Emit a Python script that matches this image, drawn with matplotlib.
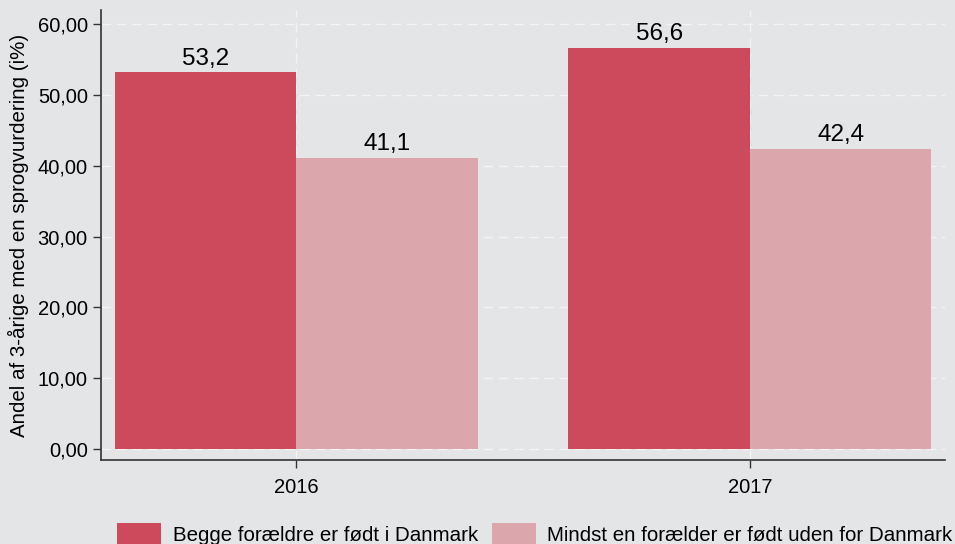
import matplotlib.pyplot as plt
import numpy as np
from matplotlib.ticker import FuncFormatter

plt.rcParams['font.family'] = ['Liberation Sans', 'DejaVu Sans']

years = ['2016', '2017']
begge = [53.2, 56.6]
mindst = [41.1, 42.4]
series_labels = ['Begge forældre er født i Danmark', 'Mindst en forælder er født uden for Danmark']
colors = ['#cc4a5c', '#dba7ad']
bg = '#e4e5e7'

fig = plt.figure(figsize=(9.55, 5.44), dpi=100, facecolor=bg)
ax = fig.add_axes([101/955, 1 - 460/544, 844/955, 450/544])
ax.set_facecolor(bg)

x = np.arange(len(years))
w = 0.4
b1 = ax.bar(x - w/2, begge, w, color=colors[0], label=series_labels[0], zorder=3)
b2 = ax.bar(x + w/2, mindst, w, color=colors[1], label=series_labels[1], zorder=3)

for bars in (b1, b2):
    for r in bars:
        ax.annotate(f'{r.get_height():.1f}'.replace('.', ','),
                    (r.get_x() + r.get_width()/2, r.get_height()),
                    xytext=(0, 2), textcoords='offset points',
                    ha='center', va='bottom', fontsize=17.5)

ax.set_xlim(-0.43, 1.43)
ax.set_ylim(-1.55, 62)
ax.set_yticks(np.arange(0, 61, 10))
ax.yaxis.set_major_formatter(FuncFormatter(lambda v, p: f'{v:.2f}'.replace('.', ',')))
ax.set_xticks(x)
ax.set_xticklabels(years)
ax.tick_params(axis='both', labelsize=14.5, length=6, width=1, color='#333333')
ax.tick_params(axis='x', pad=7)
ax.set_ylabel('Andel af 3-årige med en sprogvurdering (i%)', fontsize=14.8, labelpad=6)

ax.grid(True, color='#f4f4f4', linestyle=(0, (7, 4)), linewidth=1.0, zorder=0)
for s in ['top', 'right']:
    ax.spines[s].set_visible(False)
for s in ['left', 'bottom']:
    ax.spines[s].set_color('#333333')
    ax.spines[s].set_linewidth(1.2)

fig.legend(handles=[b1, b2], loc='upper left', bbox_to_anchor=(109/955, 1 - 515/544),
           ncol=2, frameon=False, fontsize=14.75, handlelength=2.15, handleheight=1.2,
           handletextpad=0.55, columnspacing=0.68, borderaxespad=0)

fig.savefig('out.png', dpi=100, facecolor=bg)
